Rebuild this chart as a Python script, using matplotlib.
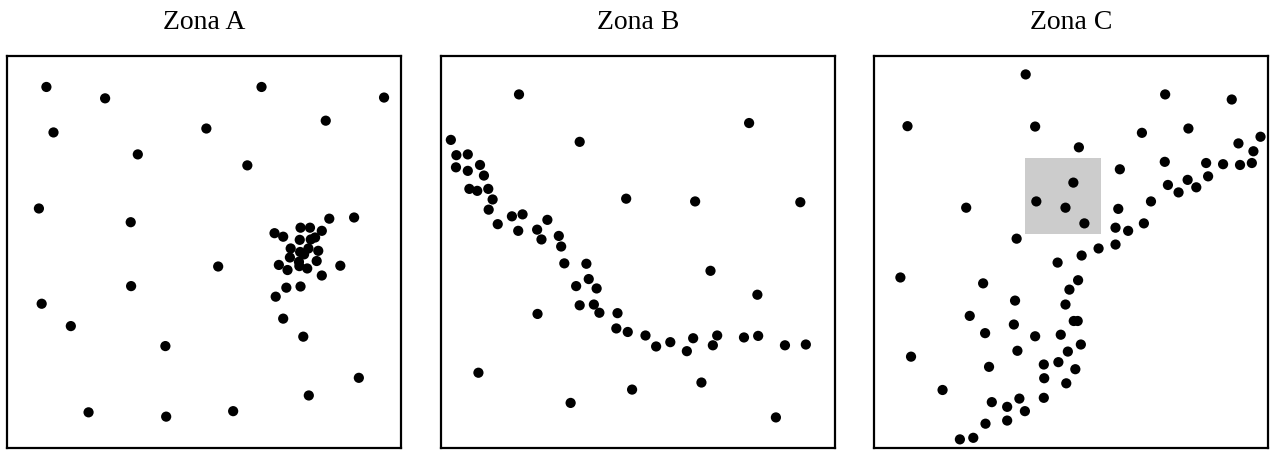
import matplotlib
matplotlib.use("Agg")
import matplotlib.pyplot as plt
from matplotlib.patches import Rectangle

titles = ["Zona A", "Zona B", "Zona C"]

# Zona A: puntos dispersos + un cúmulo
xa = [10.0, 24.9, 64.6, 95.7, 80.9, 11.8, 50.6, 33.2, 61.0, 8.1, 31.4, 81.8, 88.1,
      67.9, 70.1, 74.5, 76.9, 79.9, 74.3, 77.1, 78.2, 72.0, 74.4, 76.5, 79.0,
      71.8, 75.4, 74.1, 78.6, 69.0, 71.2, 74.2, 76.2, 84.6, 79.9, 70.9, 74.5,
      68.2, 70.1, 75.2,
      53.6, 31.5, 8.8, 16.2, 40.2, 89.3, 76.6, 20.7, 40.4, 57.4]
ya = [92.1, 89.2, 92.1, 89.4, 83.5, 80.5, 81.5, 74.9, 72.1, 61.1, 57.6, 58.5, 58.8,
      54.8, 53.9, 56.2, 56.2, 55.4, 53.1, 53.2, 53.7, 50.9, 50.0, 50.9, 50.3,
      48.6, 49.4, 47.5, 47.7, 46.7, 45.4, 46.4, 45.8, 46.5, 44.0, 40.9, 41.2,
      38.6, 33.0, 28.4,
      46.3, 41.3, 36.8, 31.1, 26.0, 17.9, 13.4, 9.1, 8.0, 9.4]

# Zona B: una franja curva + puntos sueltos
xb = [2.5, 3.9, 6.8, 3.8, 6.8, 9.9, 10.9, 7.2, 9.2, 12.0, 13.1, 12.1, 14.4,
      18.0, 20.7, 19.6, 27.0, 24.4, 25.5, 29.9, 30.5, 31.3, 36.9, 37.5, 34.3,
      39.5, 35.2, 38.8, 40.2, 44.8, 44.5, 47.4, 51.9, 54.6, 58.2, 62.4, 64.0,
      69.0, 70.1, 76.9, 80.5, 87.3, 92.6,
      19.8, 78.2, 35.2, 47.0, 64.5, 91.2, 68.4, 80.3, 24.5, 9.5, 48.5, 66.1,
      32.9, 85.0]
yb = [78.6, 74.7, 74.9, 71.6, 70.7, 72.2, 69.5, 66.1, 65.6, 66.1, 63.4, 60.8, 57.1,
      59.1, 59.6, 55.4, 58.2, 55.7, 53.2, 54.1, 51.4, 47.1, 47.0, 43.1, 41.3,
      40.7, 36.4, 36.6, 34.5, 34.4, 30.5, 29.6, 28.7, 25.9, 27.0, 24.7, 28.0,
      26.2, 28.7, 28.2, 28.6, 26.2, 26.4,
      90.2, 82.9, 78.1, 63.6, 62.9, 62.7, 45.2, 39.1, 34.2, 19.2, 14.9, 16.7,
      11.5, 7.8]

# Zona C: estructura ramificada
xc = [38.5, 73.9, 90.8, 8.5, 40.9, 68.0, 79.8, 98.1, 92.5, 96.3, 52.0, 62.4,
      73.8, 84.3, 88.6, 92.9, 95.9, 84.8, 79.6, 74.6, 77.3, 81.8, 70.3, 50.6,
      41.2, 48.6, 53.4, 23.4, 62.0, 61.3, 64.5, 68.5, 36.2, 57.0, 61.3, 52.7,
      46.6, 6.7, 27.7, 51.8, 49.6, 35.8, 48.6, 24.3, 35.5, 50.7, 51.7, 28.2,
      40.9, 47.4, 52.5, 36.4, 49.2, 9.4, 43.1, 46.8, 29.2, 51.1, 43.2, 48.8,
      17.4, 29.9, 36.9, 43.1, 33.8, 38.3, 28.3, 33.8, 21.8, 25.2]
yc = [95.3, 90.2, 88.9, 82.1, 82.0, 80.4, 81.5, 79.4, 77.7, 75.7, 76.7, 71.1,
      73.0, 72.7, 72.4, 72.2, 72.7, 69.3, 68.4, 67.1, 65.2, 66.5, 62.9, 67.7,
      62.9, 61.3, 57.3, 61.3, 61.0, 56.2, 55.4, 57.3, 53.4, 50.9, 51.9, 49.1,
      47.3, 43.5, 42.0, 42.8, 40.4, 37.6, 36.6, 33.7, 31.5, 32.4, 32.4, 29.3,
      28.5, 28.9, 26.4, 24.8, 24.6, 23.3, 21.3, 21.9, 20.7, 20.1, 17.8, 16.5,
      14.8, 11.7, 12.6, 12.8, 10.5, 9.4, 6.2, 7.0, 2.2, 2.6]

# zona resaltada en C (x0, y0, ancho, alto)
highlight = (38.4, 54.7, 19.2, 19.3)

datos = [(xa, ya), (xb, yb), (xc, yc)]
lefts = [7, 441, 874]

fig = plt.figure(figsize=(12.71, 4.5), dpi=100)

for i, (x, y) in enumerate(datos):
    ax = fig.add_axes([lefts[i] / 1271, 2 / 450, 394 / 1271, 392 / 450])
    if i == 2:
        ax.add_patch(Rectangle(highlight[:2], highlight[2], highlight[3],
                               facecolor="#cccccc", edgecolor="none", zorder=1))
    ax.scatter(x, y, s=54, c="black", edgecolors="none", zorder=2)
    ax.set_xlim(0, 100)
    ax.set_ylim(0, 100)
    ax.set_xticks([])
    ax.set_yticks([])
    for sp in ax.spines.values():
        sp.set_linewidth(1.6)
        sp.set_color("black")
    ax.text(0.5, 1 + 27 / 392, titles[i], transform=ax.transAxes,
            ha="center", va="baseline", fontsize=20, family="Liberation Serif")

fig.savefig("out.png", dpi=100)
